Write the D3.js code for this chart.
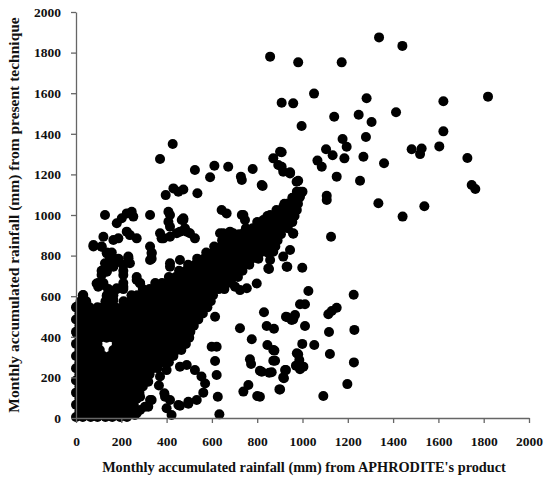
<!DOCTYPE html>
<html>
<head>
<meta charset="utf-8">
<script src="https://cdn.jsdelivr.net/npm/d3@7"></script>
<style>
  body { margin: 0; background: #fff; }
  text { font-family: "Liberation Serif", "Times New Roman", serif; font-weight: bold; }
</style>
</head>
<body>
<div id="chart"></div>
<script>
// ---- data ----
const xTicks = [0, 200, 400, 600, 800, 1000, 1200, 1400, 1600, 1800, 2000];
const yTicks = [0, 200, 400, 600, 800, 1000, 1200, 1400, 1600, 1800, 2000];

// scattered points above the band, upper right
const upperRight = [
  [1338,1875],[1441,1833],[981,1752],[1173,1752],[857,1780],[1051,1598],[908,1553],[959,1550],
  [1283,1575],[1622,1560],[1819,1583],[1140,1484],[1248,1494],[1305,1458],[1413,1506],[996,1438],
  [1622,1412],[1177,1374],[1195,1336],[1280,1384],[908,1309],[1104,1324],[1133,1294],[1185,1279],
  [1269,1287],[1482,1324],[1526,1328],[1519,1300],[1604,1338],[1360,1255],[1728,1281],[1066,1268],
  [1085,1238],[908,1238],[945,1210],[1151,1189],[1254,1169],[1747,1148],[1763,1128],[1107,1095],
  [1335,1058],[1538,1043],[1442,992],[959,908],[1126,893],[1107,1074],[981,1169],[989,1115]
];

// upper-left cloud and points around the top of the band
const upperLeft = [
  [128,1000],[180,959],[202,984],[224,1008],[246,1016],[253,992],[327,1000],[408,1016],[415,1000],
  [121,893],[77,852],[165,877],[187,885],[224,918],[238,901],[268,885],[371,910],[378,885],[415,893],
  [459,918],[481,934],[474,975],[525,885],[334,810],[327,778],[113,844],[136,811],[158,795],[231,795],
  [238,762],[128,762],[150,770],[187,770],[165,745],[231,787],[209,754],[121,729],[113,704],[136,721],
  [209,704],[268,680],[283,663],[98,647],[121,655],[180,639],[209,647],[143,630],[136,598],[165,581],
  [32,606],[3,548],[47,548],[77,532],[121,548],[150,573],[305,581],[312,548],[415,745],[415,680],
  [430,647],[459,663],[489,680],[400,614],[356,581],[445,598],[474,581],[503,565],[408,967],[415,942],
  [386,885],[445,910],[467,975],[503,910],[415,762],[459,778],[18,532],[54,532],[3,417],[25,433],
  [91,663],[371,1276],[427,1350],[525,1222],[592,1186],[611,1243],[672,1238],[728,1189],[780,1227],
  [824,1143],[871,1279],[901,1312],[893,1246],[915,1213],[945,1205],[974,1164],[430,1131],[452,1115],
  [474,1126],[396,1098],[536,1107],[643,1025],[665,1008],[739,1000],[746,975],[827,975],[857,1000],
  [871,967],[915,1041],[937,1057],[974,1074],[989,1090],[959,1025],[820,1148],[732,1172],[732,1000],
  [474,984],[489,918]
];

// points in and beside the upper band
const bandEdge = [
  [636,910],[658,885],[694,910],[709,869],[739,910],[768,893],[790,926],[812,877],[857,885],[864,828],
  [636,795],[665,828],[680,795],[724,811],[768,828],[827,844],[857,778],[915,795],[945,828],[959,910],
  [849,737],[930,745],[798,663],[702,647],[724,630],[754,639],[650,910],[680,918],[805,926],[820,942]
];

// scattered points below the band
const lowerRight = [
  [864,890],[871,819],[852,734],[933,745],[999,740],[1026,626],[1226,607],[989,560],[1011,560],
  [1151,543],[1114,511],[1129,527],[830,521],[933,496],[967,507],[959,486],[842,453],[874,440],
  [1011,453],[1117,424],[1229,434],[845,360],[871,335],[871,282],[999,365],[1052,360],[981,314],
  [986,286],[1121,315],[1227,274],[820,228],[864,225],[971,258],[1004,253],[989,240],[923,236],
  [915,200],[901,141],[1198,167],[1092,108],[812,105],[614,499],[724,442],[776,388],[927,499],
  [952,483],[599,351],[621,351],[614,281],[621,212],[626,105],[633,18],[768,289],[773,266],
  [876,332],[879,282],[812,233],[853,223],[927,236],[918,196],[898,141],[761,163],[739,130],
  [800,108],[975,319],
  [459,253],[489,261],[525,236],[554,204],[570,170],[562,125],[533,89],[496,70],[459,60],[415,89],
  [390,122],[366,160],[371,204],[400,236],
  [327,89],[283,105],[275,154],[319,179],[305,56],[268,23],[260,15],[283,39],[319,56],[334,89],
  [393,105],[400,48],[452,64],[422,15],[496,80]
];

// dense mass near the origin and along the 1:1 band, row by row
const denseRowY = [5,35,65,95,125,155,185,215,245,275,305,335,365,395,425,455,485,515,545,575,605,635,
  665,695,725,755,785,815,845,875,905,935,965,995,1025,1055,1085,1115];
const denseRowX = [
  [0,30,65,95,130,160,195,225],
  [15,45,80,110,145,175,210,240],
  [0,30,60,95,125,160,190,225,255],
  [15,45,80,110,140,175,205,240,268],
  [0,30,60,95,125,155,190,220,255,280],
  [15,45,75,110,140,170,205,235,265,295],
  [0,30,60,90,125,155,185,220,250,280,310],
  [15,45,75,105,140,170,200,235,265,295,325],
  [0,30,60,90,120,155,185,215,250,280,310,340,360],
  [15,45,75,105,135,170,200,230,265,295,325,355,385,410],
  [0,30,60,90,120,150,185,215,245,280,310,340,370,400,430],
  [15,45,75,105,165,200,230,260,295,325,355,385,415,445,465],
  [0,30,60,95,180,215,245,275,310,340,370,400,430,460,485],
  [15,45,75,105,135,165,200,230,260,290,325,355,385,415,445,475,500],
  [0,30,60,90,120,150,180,215,245,275,305,340,370,400,430,460,490,505],
  [15,45,75,105,135,165,195,230,260,290,320,355,385,415,445,475,505,520],
  [0,30,60,90,120,150,180,210,245,275,305,335,370,400,430,460,490,520,540],
  [15,45,75,110,140,170,200,230,260,290,320,350,385,415,445,475,505,535,560],
  [0,30,60,95,150,175,205,235,265,300,330,360,390,420,450,485,515,545,580],
  [20,45,130,160,210,240,275,305,335,365,395,430,460,490,520,555,595],
  [30,136,165,245,270,300,330,360,390,420,450,480,510,545,575,605],
  [143,180,209,295,325,355,385,415,445,475,505,535,565,600,630,655],
  [98,121,209,283,350,380,410,440,470,500,530,560,590,620,650,685],
  [268,410,440,470,500,530,560,590,620,650,680,715],
  [113,136,209,455,485,515,545,575,605,635,665,700,735],
  [165,209,495,525,555,585,615,645,675,705,735,765],
  [150,187,231,334,535,565,595,625,655,685,715,745,775,805],
  [136,158,334,575,605,635,665,695,725,755,785,815,845],
  [77,113,327,610,640,670,700,730,760,790,820,855,880],
  [645,675,705,735,765,795,825,855,890],
  [690,720,750,780,810,840,870,905],
  [750,780,810,840,870,900,935],
  [800,830,860,890,920,955],
  [845,875,905,935,965],
  [885,915,945,975],
  [920,950,980],
  [955,985],
  [975,1000]
];

// ---- layout ----
const W = 545, H = 487;
const margin = {left: 76, right: 16, top: 12, bottom: 69};

const svg = d3.select('#chart').append('svg')
  .attr('width', W)
  .attr('height', H);

const x = d3.scaleLinear().domain([0, 2000]).range([margin.left, W - margin.right]);
const y = d3.scaleLinear().domain([0, 2000]).range([H - margin.bottom, margin.top]);

let points = [];
denseRowY.forEach((yy, i) => denseRowX[i].forEach(xx => points.push([xx, yy])));
points = points.concat(lowerRight, bandEdge, upperLeft, upperRight);

svg.append('g').attr('class', 'dots')
  .selectAll('circle')
  .data(points)
  .enter().append('circle')
  .attr('cx', d => x(d[0]))
  .attr('cy', d => y(d[1]))
  .attr('r', 5)
  .style('fill', '#000');

// axes
const fmt = d3.format('d');
const xAxis = svg.append('g')
  .attr('transform', `translate(0,${H - margin.bottom})`)
  .call(d3.axisBottom(x).tickValues(xTicks).tickFormat(fmt).tickSize(5).tickSizeOuter(0).tickPadding(13));
const yAxis = svg.append('g')
  .attr('transform', `translate(${margin.left},0)`)
  .call(d3.axisLeft(y).tickValues(yTicks).tickFormat(fmt).tickSize(5).tickSizeOuter(0).tickPadding(10));

[xAxis, yAxis].forEach(g => {
  g.selectAll('path, line').style('stroke', '#666').style('stroke-width', 1.3);
  g.selectAll('text').style('font-size', '13.5px').style('fill', '#111')
    .style('font-family', '"Liberation Serif", serif').style('font-weight', 'bold');
});

svg.append('text')
  .attr('x', 304).attr('y', 472)
  .attr('text-anchor', 'middle')
  .style('font-size', '14.3px')
  .style('fill', '#111')
  .text("Monthly accumulated rainfall (mm) from APHRODITE's product");

svg.append('text')
  .attr('transform', 'translate(19,215) rotate(-90)')
  .attr('text-anchor', 'middle')
  .style('font-size', '15.5px')
  .style('fill', '#111')
  .text('Monthly accumulated rainfall (mm) from present technique');
</script>
</body>
</html>
